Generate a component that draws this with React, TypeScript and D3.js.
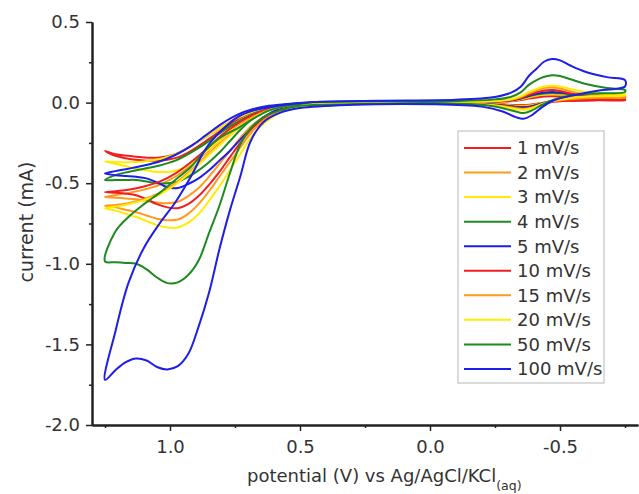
import { useEffect, useRef } from 'react';
import * as d3 from 'd3';

// potentials (V) sampled along each sweep
const potentialUp = [-0.75, -0.68, -0.6, -0.54, -0.5, -0.47, -0.44, -0.41, -0.38, -0.35, -0.31, -0.25, -0.1, 0.2,
  0.45, 0.55, 0.62, 0.68, 0.74, 0.8, 0.86, 0.92, 0.98, 1.04, 1.1, 1.16, 1.21, 1.25];
const potentialDown = [1.21, 1.17, 1.13, 1.09, 1.05, 1.01, 0.97, 0.93, 0.89, 0.85, 0.81, 0.77, 0.73, 0.69, 0.64, 0.58, 0.5,
  0.3, 0.0, -0.2, -0.28, -0.33, -0.36, -0.39, -0.43, -0.47, -0.55, -0.65, -0.75];

// current (mA) for each scan rate
const i1Up = [0.018, 0.02, 0.024, 0.031, 0.037, 0.04, 0.038, 0.032, 0.025, 0.016, 0.009, 0.005, 0.003, 0.003,
  -0.002, -0.012, -0.03, -0.055, -0.095, -0.15, -0.21, -0.27, -0.32, -0.34, -0.34, -0.33, -0.32, -0.30];
const i1Down = [-0.33, -0.345, -0.355, -0.36, -0.36, -0.355, -0.34, -0.31, -0.27, -0.225, -0.18, -0.135, -0.095, -0.065, -0.04, -0.02, -0.01,
  -0.006, -0.003, -0.006, -0.011, -0.015, -0.015, -0.011, -0.002, 0.007, 0.012, 0.014, 0.015];

const i2Up = [0.03, 0.032, 0.036, 0.042, 0.047, 0.05, 0.048, 0.041, 0.032, 0.02, 0.011, 0.006, 0.004, 0.003,
  -0.003, -0.016, -0.04, -0.08, -0.14, -0.22, -0.31, -0.39, -0.46, -0.51, -0.54, -0.56, -0.575, -0.585];
const i2Down = [-0.59, -0.595, -0.6, -0.61, -0.62, -0.625, -0.615, -0.58, -0.53, -0.46, -0.38, -0.3, -0.22, -0.15, -0.09, -0.045, -0.018,
  -0.007, -0.004, -0.007, -0.013, -0.019, -0.02, -0.015, -0.003, 0.01, 0.02, 0.025, 0.027];

const i3Up = [0.045, 0.046, 0.048, 0.052, 0.054, 0.055, 0.052, 0.045, 0.035, 0.022, 0.012, 0.006, 0.004, 0.003,
  -0.002, -0.012, -0.03, -0.055, -0.095, -0.15, -0.21, -0.27, -0.32, -0.35, -0.365, -0.37, -0.37, -0.365];
const i3Down = [-0.38, -0.395, -0.41, -0.42, -0.43, -0.43, -0.42, -0.39, -0.34, -0.29, -0.23, -0.17, -0.12, -0.08, -0.05, -0.025, -0.01,
  -0.007, -0.004, -0.008, -0.015, -0.022, -0.025, -0.019, -0.003, 0.012, 0.028, 0.037, 0.042];

const i4Up = [0.04, 0.042, 0.047, 0.054, 0.058, 0.06, 0.057, 0.05, 0.039, 0.025, 0.013, 0.007, 0.004, 0.003,
  -0.003, -0.015, -0.04, -0.07, -0.12, -0.18, -0.25, -0.31, -0.36, -0.39, -0.41, -0.43, -0.45, -0.48];
const i4Down = [-0.48, -0.48, -0.48, -0.49, -0.5, -0.5, -0.49, -0.46, -0.42, -0.37, -0.31, -0.24, -0.17, -0.11, -0.06, -0.03, -0.012,
  -0.008, -0.005, -0.009, -0.017, -0.025, -0.028, -0.022, -0.005, 0.01, 0.025, 0.033, 0.037];

const i5Up = [0.035, 0.038, 0.045, 0.055, 0.062, 0.065, 0.062, 0.054, 0.042, 0.027, 0.014, 0.007, 0.004, 0.003,
  0.0, -0.008, -0.02, -0.04, -0.075, -0.13, -0.2, -0.27, -0.325, -0.365, -0.39, -0.41, -0.425, -0.44];
const i5Down = [-0.45, -0.455, -0.46, -0.47, -0.495, -0.525, -0.53, -0.505, -0.47, -0.42, -0.36, -0.3, -0.23, -0.165, -0.09, -0.04, -0.015,
  -0.008, -0.005, -0.009, -0.018, -0.027, -0.03, -0.024, -0.006, 0.008, 0.022, 0.029, 0.032];

const i10Up = [0.02, 0.026, 0.037, 0.056, 0.072, 0.078, 0.075, 0.064, 0.048, 0.03, 0.015, 0.008, 0.004, 0.003,
  -0.003, -0.015, -0.04, -0.075, -0.13, -0.2, -0.29, -0.37, -0.44, -0.49, -0.52, -0.54, -0.55, -0.555];
const i10Down = [-0.56, -0.565, -0.575, -0.6, -0.63, -0.65, -0.655, -0.63, -0.58, -0.51, -0.43, -0.34, -0.25, -0.17, -0.1, -0.05, -0.02,
  -0.009, -0.005, -0.01, -0.02, -0.032, -0.036, -0.03, -0.01, 0.004, 0.012, 0.016, 0.018];

const i15Up = [0.035, 0.04, 0.05, 0.07, 0.087, 0.093, 0.09, 0.077, 0.058, 0.035, 0.018, 0.009, 0.005, 0.003,
  -0.004, -0.018, -0.045, -0.09, -0.16, -0.24, -0.33, -0.42, -0.5, -0.56, -0.6, -0.625, -0.635, -0.64];
const i15Down = [-0.65, -0.665, -0.68, -0.7, -0.72, -0.73, -0.725, -0.69, -0.63, -0.55, -0.46, -0.37, -0.28, -0.19, -0.11, -0.055, -0.022,
  -0.01, -0.006, -0.011, -0.022, -0.035, -0.04, -0.032, -0.01, 0.007, 0.022, 0.03, 0.032];

const i20Up = [0.05, 0.055, 0.065, 0.085, 0.1, 0.105, 0.1, 0.085, 0.065, 0.04, 0.02, 0.01, 0.005, 0.003,
  -0.004, -0.02, -0.05, -0.095, -0.165, -0.25, -0.34, -0.43, -0.51, -0.57, -0.605, -0.63, -0.645, -0.655];
const i20Down = [-0.67, -0.69, -0.71, -0.735, -0.76, -0.775, -0.775, -0.745, -0.69, -0.61, -0.52, -0.42, -0.32, -0.22, -0.13, -0.065, -0.025,
  -0.01, -0.006, -0.012, -0.025, -0.04, -0.045, -0.035, -0.01, 0.01, 0.03, 0.04, 0.045];

const i50Up = [0.078, 0.09, 0.115, 0.145, 0.165, 0.17, 0.16, 0.14, 0.11, 0.065, 0.035, 0.02, 0.01, 0.008,
  0.002, -0.02, -0.05, -0.1, -0.16, -0.21, -0.29, -0.4, -0.48, -0.56, -0.63, -0.71, -0.8, -0.985];
const i50Down = [-0.99, -0.995, -1.0, -1.035, -1.085, -1.12, -1.115, -1.07, -0.98, -0.81, -0.64, -0.44, -0.26, -0.16, -0.09, -0.05, -0.02,
  -0.01, -0.004, -0.014, -0.035, -0.055, -0.065, -0.05, -0.015, 0.015, 0.045, 0.058, 0.065];

const i100Up = [0.14, 0.158, 0.19, 0.23, 0.262, 0.27, 0.255, 0.21, 0.165, 0.1, 0.06, 0.035, 0.018, 0.012,
  0.004, -0.012, -0.03, -0.05, -0.09, -0.17, -0.28, -0.46, -0.62, -0.75, -0.9, -1.12, -1.42, -1.72];
const i100Down = [-1.66, -1.61, -1.587, -1.6, -1.64, -1.655, -1.635, -1.56, -1.39, -1.18, -0.91, -0.67, -0.46, -0.24, -0.12, -0.065, -0.034,
  -0.014, -0.01, -0.025, -0.055, -0.09, -0.1, -0.08, -0.03, 0.01, 0.045, 0.075, 0.1];

const rateLabels = ['1 mV/s', '2 mV/s', '3 mV/s', '4 mV/s', '5 mV/s', '10 mV/s', '15 mV/s', '20 mV/s', '50 mV/s', '100 mV/s'];
const rateColors = ['#f01e1e', '#ff9a1f', '#ffec00', '#1e8a1e', '#1e1ee8', '#f01e1e', '#ff9a1f', '#ffec00', '#1e8a1e', '#1e1ee8'];
const upCurrents = [i1Up, i2Up, i3Up, i4Up, i5Up, i10Up, i15Up, i20Up, i50Up, i100Up];
const downCurrents = [i1Down, i2Down, i3Down, i4Down, i5Down, i10Down, i15Down, i20Down, i50Down, i100Down];

const xTicks = [1.0, 0.5, 0.0, -0.5];
const xMinor = [1.25, 0.75, 0.25, -0.25, -0.75];
const yTicks = [0.5, 0.0, -0.5, -1.0, -1.5, -2.0];
const yMinor = [0.25, -0.25, -0.75, -1.25, -1.75];

const W = 639, H = 494;
const FONT = 'DejaVu Sans, sans-serif';

export default function App() {
  const xAxisRef = useRef(null);
  const yAxisRef = useRef(null);

  const x = d3.scaleLinear().domain([1.3, -0.8]).range([92, 638]);
  const y = d3.scaleLinear().domain([-2.0, 0.5]).range([425, 22]);

  const line = d3.line()
    .x(d => x(d[0]))
    .y(d => y(d[1]))
    .curve(d3.curveCatmullRomClosed.alpha(0.5));

  const series = rateLabels.map((label, k) => ({
    label,
    color: rateColors[k],
    points: upCurrents[k].map((c, i) => [potentialUp[i], c])
      .concat(downCurrents[k].map((c, i) => [potentialDown[i], c])),
  }));

  useEffect(() => {
    const gx = d3.select(xAxisRef.current);
    gx.selectAll('*').remove();
    gx.append('g').call(d3.axisBottom(x).tickValues(xMinor).tickSize(3).tickSizeOuter(0).tickFormat(() => ''));
    gx.append('g').call(d3.axisBottom(x).tickValues(xTicks).tickSize(6).tickSizeOuter(0).tickPadding(9)
      .tickFormat(d => d.toFixed(1)));

    const gy = d3.select(yAxisRef.current);
    gy.selectAll('*').remove();
    gy.append('g').call(d3.axisLeft(y).tickValues(yMinor).tickSize(3).tickSizeOuter(0).tickFormat(() => ''));
    gy.append('g').call(d3.axisLeft(y).tickValues(yTicks).tickSize(6).tickSizeOuter(0).tickPadding(6)
      .tickFormat(d => d.toFixed(1)));

    [gx, gy].forEach(g => {
      g.selectAll('path.domain').attr('stroke', '#222').attr('stroke-width', 2);
      g.selectAll('.tick line').attr('stroke', '#222').attr('stroke-width', 1.5);
      g.selectAll('.tick text').attr('font-family', FONT).attr('font-size', 18).attr('fill', '#333');
    });
  }, []);

  return (
    <svg width={W} height={H} style={{ position: 'absolute', left: 0, top: 0, background: '#fff' }}>
      <g fill="none" strokeWidth={2} strokeLinejoin="round">
        {series.map(s => (
          <path key={s.label} d={line(s.points)} stroke={s.color} />
        ))}
      </g>
      <g ref={xAxisRef} transform="translate(0,425)" />
      <g ref={yAxisRef} transform="translate(92,0)" />

      <text transform="translate(33,222) rotate(-90)" textAnchor="middle" fontFamily={FONT} fontSize={19} fill="#333">
        current (mA)
      </text>
      <text x={247} y={482} fontFamily={FONT} fontSize={18} fill="#333">
        potential (V) vs Ag/AgCl/KCl
        <tspan fontSize={12.5} dy={8}>(aq)</tspan>
      </text>

      <g>
        <rect x={458} y={131} width={146} height={252} fill="#fff" stroke="#b8b8b8" strokeWidth={1} />
        {series.map((s, i) => (
          <g key={s.label} transform={`translate(0,${148 + i * 24.55})`}>
            <line x1={464} x2={511} y1={0} y2={0} stroke={s.color} strokeWidth={2} />
            <text x={517} y={0} dy="0.35em" fontFamily={FONT} fontSize={18} fill="#333">{s.label}</text>
          </g>
        ))}
      </g>
    </svg>
  );
}
